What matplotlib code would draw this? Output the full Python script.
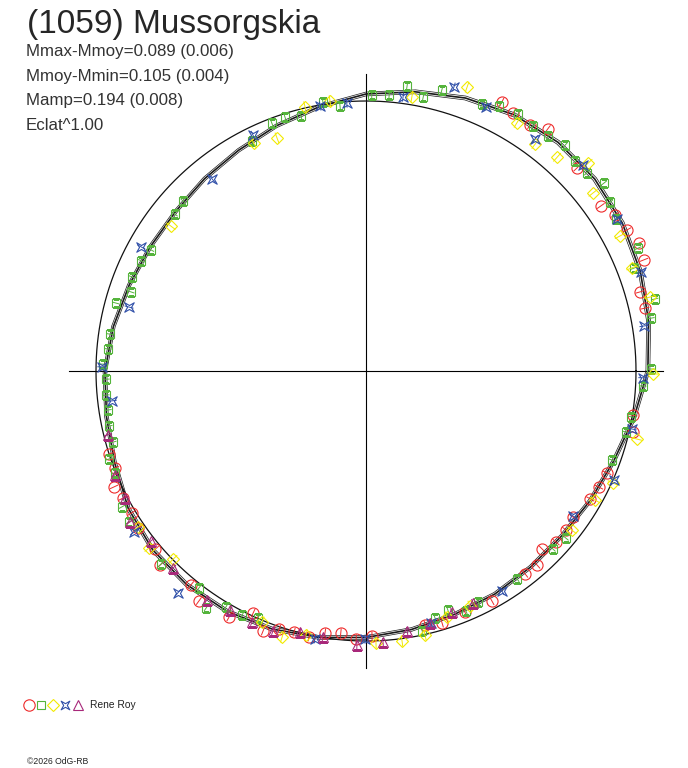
import numpy as np
import matplotlib
matplotlib.use("Agg")
import matplotlib.pyplot as plt
from matplotlib.path import Path

# ---------------- data (phase angle in degrees, relative flux; mean flux = 1) ----------------
curve_ang = [0, 10, 20, 30, 40, 50, 60, 70, 80, 90, 100, 110, 120, 130, 140, 150, 160, 170,
             180, 190, 200, 210, 220, 230, 240, 250, 260, 270, 280, 290, 300, 310, 320, 330, 340, 350]
curve_flux = [1.044, 1.063, 1.081, 1.096, 1.106, 1.106, 1.096, 1.076, 1.050, 1.026, 0.994, 0.967,
              0.944, 0.930, 0.920, 0.922, 0.933, 0.950, 0.967, 0.976, 0.991, 1.017, 1.031, 1.033,
              1.028, 1.017, 1.002, 0.987, 0.972, 0.959, 0.954, 0.948, 0.948, 0.959, 0.976, 1.007]

red_ang = [63.2, 60.3, 56.3, 53.1, 43.9, 35.1, 32.1, 28.4, 25.1, 21.8, 16.1, 12.7, -9.4, -12.9,
           -22.9, -26.5, -29.7, -35.2, -38.5, -42.0, -45.3, -48.6, -51.9, -61.3, -67.7, -73.2,
           -76.9, -88.7, -92.1, -95.5, -98.9, -102.1, -105.4, -108.6, -111.6, -115.0, -119.1,
           -126.0, -129.3, -136.7, -139.8, -145.4, -148.8, -152.4, -155.3, -158.9, -162.1]
red_flux = [1.116, 1.100, 1.095, 1.121, 1.084, 1.063, 1.088, 1.099, 1.117, 1.109, 1.056, 1.059,
            1.002, 1.014, 0.969, 0.964, 0.956, 0.938, 0.946, 0.947, 0.927, 0.958, 0.955, 0.971,
            0.965, 0.975, 0.966, 0.982, 0.993, 0.975, 0.982, 1.007, 1.003, 1.009, 1.036, 0.989,
            1.043, 1.053, 1.024, 1.048, 1.022, 1.025, 1.014, 1.016, 1.027, 0.997, 1.000]

green_ang = [110.8, 107.7, 104.3, 99.1, 95.6, 88.8, 85.2, 81.8, 78.2, 74.9, 66.5, 63.3, 59.4,
             55.7, 52.2, 48.6, 45.1, 41.9, 38.3, 34.7, 31.3, 24.3, 21.0, 14.0, 10.5, 0.4, -3.1,
             -9.8, -13.2, -19.9, -39.9, -43.6, -54.0, -64.1, -67.4, -71.1, -74.4, -77.8, -164.3,
             -161.1, -157.9, -150.9, -147.5, -136.7, -127.6, -124.0, -120.7, -116.9, -113.6,
             161.4, 164.8, 171.8, 175.1, 178.5, -178.2, -174.7, -171.4, -167.9, 116.4, 137.1,
             140.6, 150.6, 153.9, 158.1]
green_flux = [0.982, 0.987, 0.975, 1.009, 0.986, 1.023, 1.026, 1.066, 1.037, 1.078, 1.078, 1.098,
              1.106, 1.098, 1.101, 1.115, 1.097, 1.099, 1.123, 1.099, 1.084, 1.106, 1.063, 1.103,
              1.074, 1.056, 1.027, 0.996, 0.989, 0.969, 0.965, 0.956, 0.952, 0.951, 0.963, 0.936,
              0.950, 0.985, 0.973, 1.006, 1.003, 1.034, 1.041, 1.043, 1.014, 1.059, 1.016, 1.014,
              0.999, 0.918, 0.960, 0.958, 0.959, 0.974, 0.963, 0.967, 0.966, 0.973, 0.951, 0.925,
              0.916, 0.914, 0.927, 0.934]

yellow_ang = [103.0, 97.6, 80.5, 70.4, 110.9, 116.2, 143.4, 58.7, 53.3, 48.2, 43.1, 38.1, 28.0,
              21.2, 14.6, -0.6, -14.1, -24.4, -29.4, -37.7, -66.1, -71.8, -77.4, -82.4, -87.9,
              -102.8, -107.5, -112.5, -135.7, -140.8, -145.6]
yellow_flux = [1.004, 1.009, 1.029, 1.116, 0.924, 0.941, 0.900, 1.076, 1.048, 1.062, 1.127, 1.069,
               1.065, 1.056, 1.087, 1.063, 1.035, 1.004, 0.973, 0.964, 0.952, 0.959, 1.002, 1.009,
               1.008, 1.003, 1.033, 1.006, 0.998, 1.037, 1.023]

blue_ang = [99.8, 94.1, 82.3, 72.8, 115.6, 128.7, 151.1, 164.9, 179.1, -173.3, 65.6, 53.9, 43.5,
            31.2, 19.8, 9.2, -1.4, -12.3, -23.7, -35.0, -58.3, -75.5, -90.2, -100.8, -130.3, -145.2]
blue_flux = [0.996, 0.995, 1.024, 1.101, 0.969, 0.911, 0.951, 0.909, 0.978, 0.947, 1.074, 1.063,
             1.108, 1.087, 1.083, 1.043, 1.026, 1.009, 1.003, 0.936, 0.958, 0.964, 0.993, 1.010,
             1.077, 1.046]

purple_ang = [-157.5, -152.2, -147.4, -141.7, -134.4, -124.8, -119.6, -114.4, -109.7, -166.1,
              -104.2, -99.2, -91.9, -86.4, -81.0, -75.7, -70.4, -65.2]
purple_flux = [1.006, 1.009, 1.038, 1.015, 1.021, 1.033, 1.019, 1.021, 1.023, 0.984, 0.997, 0.998,
               1.015, 1.006, 0.975, 0.963, 0.948, 0.946]

title = "(1059) Mussorgskia"
info_lines = ["Mmax-Mmoy=0.089 (0.006)", "Mmoy-Mmin=0.105 (0.004)", "Mamp=0.194 (0.008)", "Eclat^1.00"]
observer = "Rene Roy"
credit = "\u00a92026 OdG-RB"

# ---------------- styling ----------------
RED, GREEN, YELLOW, BLUE, PURPLE = "#ee2a2a", "#55b43c", "#f2ea00", "#2f4fa8", "#a8287a"
FONT = ["Liberation Sans", "DejaVu Sans"]
W, H = 688, 768
CX, CY, R_PX, RMAX = 366, 371, 270, 1.4

star_path = Path([(1, 1), (0, 0.42), (-1, 1), (-0.42, 0), (-1, -1), (0, -0.42), (1, -1), (0.42, 0), (1, 1)],
                 [Path.MOVETO] + [Path.LINETO] * 7 + [Path.CLOSEPOLY])

fig = plt.figure(figsize=(W / 100, H / 100), dpi=100)
rad = RMAX * R_PX
ax = fig.add_axes([(CX - rad) / W, (H - CY - rad) / H, 2 * rad / W, 2 * rad / H], projection="polar")
ax.set_ylim(0, RMAX)
ax.grid(False)
ax.set_xticks([])
ax.set_yticks([])
ax.spines["polar"].set_visible(False)
ax.patch.set_alpha(0)

# cross axes
for t in (0, 90, 180, 270):
    ax.plot([np.radians(t)] * 2, [0, 1.1], color="black", lw=0.8, zorder=1)

# mean-flux reference circle
tt = np.linspace(0, 2 * np.pi, 721)
ax.plot(tt, np.ones_like(tt), color="#111111", lw=0.9, zorder=2)

# lightcurve fit
ca = np.radians(np.append(curve_ang, curve_ang[0]))
cf = np.append(curve_flux, curve_flux[0])
ax.plot(ca, cf, color="#1a1a1a", lw=1.2, zorder=3)
ax.plot(ca, cf * 1.007, color="#1a1a1a", lw=0.5, zorder=3)
ax.plot(ca, cf * 0.993, color="#1a1a1a", lw=0.5, zorder=3)

series = [
    (red_ang, red_flux, "o", RED, 8.0, 0.017),
    (green_ang, green_flux, "s", GREEN, 6.0, 0.013),
    (yellow_ang, yellow_flux, "D", YELLOW, 6.0, 0.021),
    (blue_ang, blue_flux, star_path, BLUE, 6.8, 0.017),
    (purple_ang, purple_flux, "^", PURPLE, 7.5, 0.015),
]
for a, f, m, c, ms, e in series:
    ax.errorbar(np.radians(a), f, yerr=e, fmt="none", ecolor=c, elinewidth=0.7, capsize=0, zorder=4)
    ax.plot(np.radians(a), f, ls="none", marker=m, mfc="none", mec=c, mew=0.8, ms=ms, zorder=4)

# ---------------- texts ----------------
fig.text(27 / W, 1 - 33 / H, title, fontsize=24, family=FONT, color="#262626", va="baseline")
for i, line in enumerate(info_lines):
    fig.text(26 / W, 1 - (56 + 24.5 * i) / H, line, fontsize=12.2, family=FONT, color="#333333",
             va="baseline")

ov = fig.add_axes([0, 0, 1, 1])
ov.set_xlim(0, W)
ov.set_ylim(H, 0)
ov.axis("off")
ov.patch.set_alpha(0)
leg = [("o", RED, 8.2, 29), ("s", GREEN, 6.2, 41), ("D", YELLOW, 5.8, 53), (star_path, BLUE, 6.2, 64.5),
       ("^", PURPLE, 7.8, 78)]
for m, c, ms, x in leg:
    ov.plot([x], [705], ls="none", marker=m, mfc="none", mec=c, mew=0.8, ms=ms)
ov.text(90, 705, observer, fontsize=7.4, family=FONT, color="#222222", va="center")
ov.text(27, 762, credit, fontsize=6.2, family=FONT, color="#222222", va="center")

fig.savefig("out.png", dpi=100, facecolor="white")
